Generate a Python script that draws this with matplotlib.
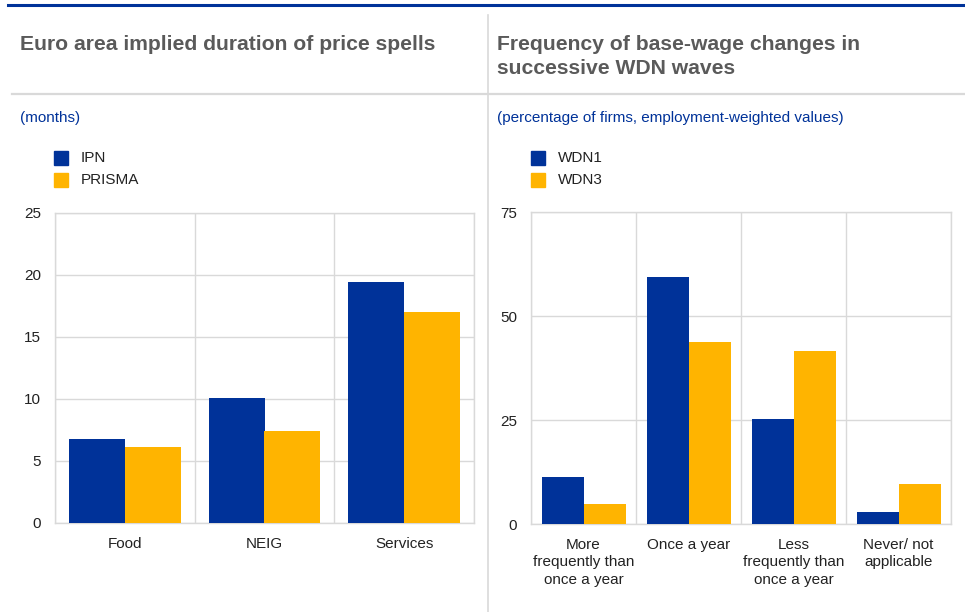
"""Two-panel ECB-style bar chart: price spell durations and base-wage change frequency."""
import matplotlib
matplotlib.use("Agg")
import matplotlib.pyplot as plt
from matplotlib.patches import Rectangle
from matplotlib.lines import Line2D
import numpy as np

plt.rcParams["font.family"] = ["Liberation Sans", "DejaVu Sans"]

# ---------------------------------------------------------------------------
# Data
# ---------------------------------------------------------------------------
left_categories = ["Food", "NEIG", "Services"]
left_series = ["IPN", "PRISMA"]
ipn_values = [6.8, 10.1, 19.4]
prisma_values = [6.1, 7.4, 17.0]
left_ticks = [0, 5, 10, 15, 20, 25]

right_categories = [
    "More\nfrequently than\nonce a year",
    "Once a year",
    "Less\nfrequently than\nonce a year",
    "Never/ not\napplicable",
]
right_series = ["WDN1", "WDN3"]
wdn1_values = [11.3, 59.4, 25.3, 2.8]
wdn3_values = [4.9, 43.8, 41.6, 9.5]
right_ticks = [0, 25, 50, 75]

BLUE = "#003299"
YELLOW = "#FFB400"
GRID = "#d9d9d9"
TITLE_GREY = "#5a5a5a"
TEXT = "#222222"

W, H = 965, 612


def fx(px):
    return px / W


def fy(py):
    return 1 - py / H


fig = plt.figure(figsize=(W / 100, H / 100), dpi=100)

# Frame decoration: top blue rule, header separator, vertical divider
fig.add_artist(Line2D([fx(8), fx(965)], [fy(5), fy(5)], color=BLUE, lw=2.2))
fig.add_artist(Line2D([fx(12), fx(964)], [fy(94), fy(94)], color=GRID, lw=1.6))
fig.add_artist(Line2D([fx(487.5), fx(487.5)], [fy(15), fy(612)], color=GRID, lw=1.2))


def draw_panel(rect_px, categories, series_names, series_values, ticks, title, subtitle,
               text_x, legend_x):
    x0, y0, x1, y1 = rect_px
    ax = fig.add_axes([fx(x0), fy(y1), fx(x1 - x0), (y1 - y0) / H])
    x = np.arange(len(categories))
    width = 0.4
    for i, (vals, color) in enumerate(zip(series_values, [BLUE, YELLOW])):
        ax.bar(x + (i - 0.5) * width, vals, width=width, color=color, zorder=3,
               label=series_names[i])
    ax.set_xlim(-0.5, len(categories) - 0.5)
    ax.set_ylim(ticks[0], ticks[-1])
    ax.set_yticks(ticks)
    ax.set_xticks(x)
    ax.set_xticklabels(categories, fontsize=11, color=TEXT, linespacing=1.32, va="top")
    ax.set_xticks(np.arange(-0.5, len(categories)), minor=True)
    ax.tick_params(axis="y", labelsize=11, labelcolor=TEXT, length=0, pad=10)
    ax.tick_params(axis="x", which="both", length=0, pad=10)
    ax.grid(axis="y", color=GRID, lw=1, zorder=0)
    ax.grid(axis="x", which="minor", color=GRID, lw=1, zorder=0)
    ax.grid(axis="x", which="major", visible=False)
    for sp in ax.spines.values():
        sp.set_color(GRID)
        sp.set_linewidth(1)

    # Header texts
    fig.text(fx(text_x), fy(35), title, fontsize=15.2, fontweight="bold", color=TITLE_GREY,
             ha="left", va="top", linespacing=1.3)
    fig.text(fx(text_x), fy(118), subtitle, fontsize=11, color=BLUE, ha="left", va="center")

    # Legend as squares + labels
    for i, (name, color) in enumerate(zip(series_names, [BLUE, YELLOW])):
        cy = 158 + 22 * i
        fig.add_artist(Rectangle((fx(legend_x), fy(cy + 7)), fx(14), 14 / H, color=color,
                                 transform=fig.transFigure))
        fig.text(fx(legend_x + 27), fy(cy), name, fontsize=11, color=TEXT,
                 ha="left", va="center")
    return ax


draw_panel((55, 213, 474, 523), left_categories, left_series, [ipn_values, prisma_values],
           left_ticks, "Euro area implied duration of price spells", "(months)",
           text_x=20, legend_x=54)
draw_panel((531, 212, 951, 524), right_categories, right_series, [wdn1_values, wdn3_values],
           right_ticks, "Frequency of base-wage changes in\nsuccessive WDN waves",
           "(percentage of firms, employment-weighted values)",
           text_x=497, legend_x=531)

fig.savefig("out.png", dpi=100)
